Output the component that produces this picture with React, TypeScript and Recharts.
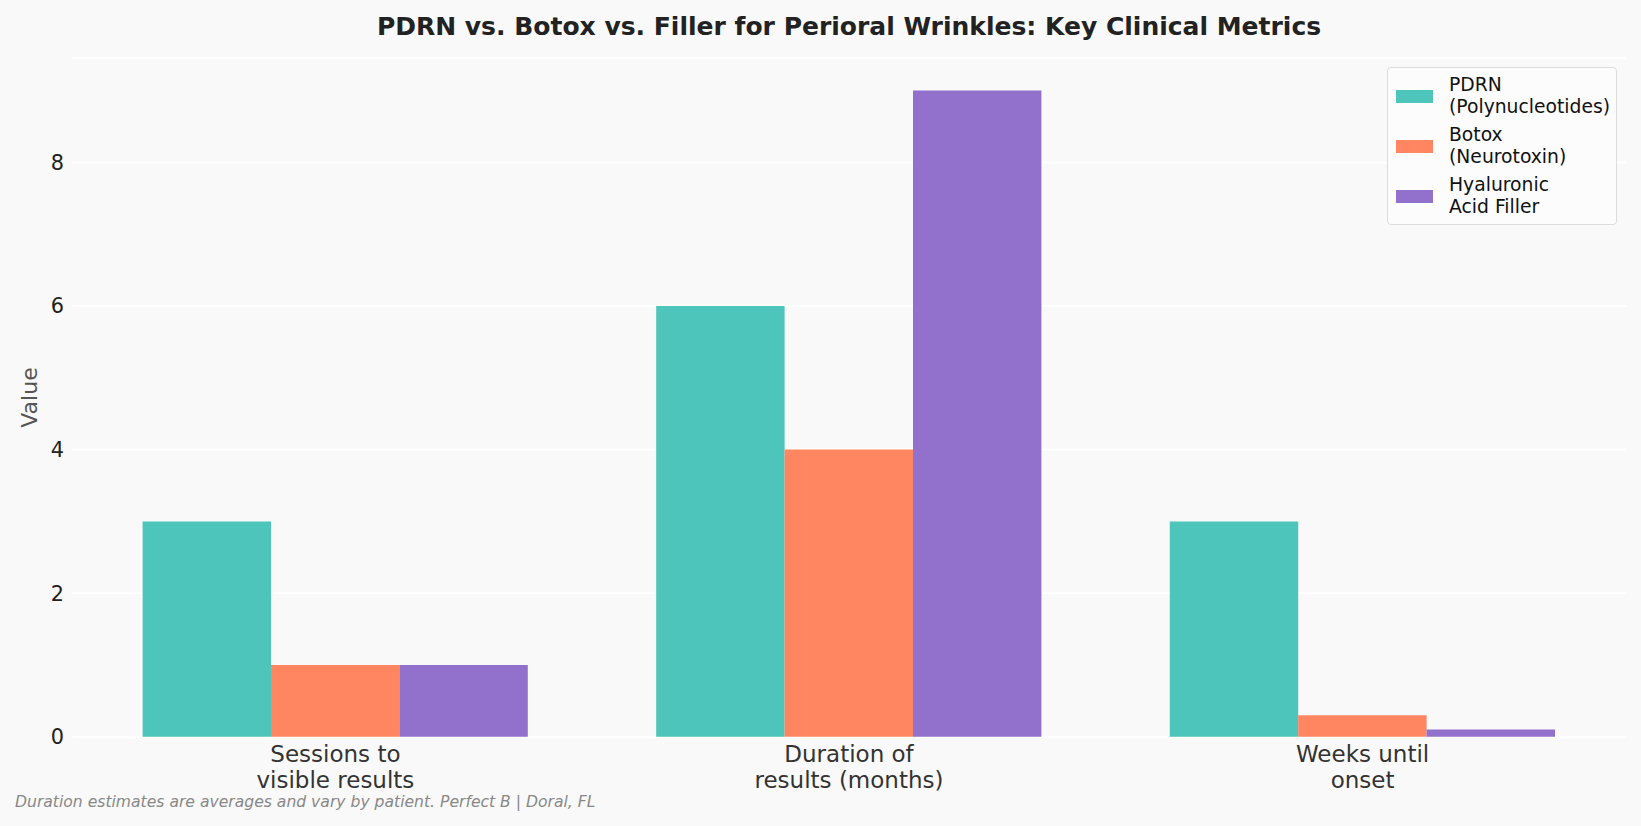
import { BarChart, Bar, XAxis, YAxis, CartesianGrid, Legend } from 'recharts';

const categories = ['Sessions to\nvisible results', 'Duration of\nresults (months)', 'Weeks until\nonset'];
const pdrnValues = [3, 6, 3];
const botoxValues = [1, 4, 0.3];
const fillerValues = [1, 9, 0.1];
const yTicks = [0, 2, 4, 6, 8];

const seriesList = [
  { key: 'pdrn', name: 'PDRN\n(Polynucleotides)', color: '#4DC5BB' },
  { key: 'botox', name: 'Botox\n(Neurotoxin)', color: '#FF8660' },
  { key: 'filler', name: 'Hyaluronic\nAcid Filler', color: '#9271CC' },
];

const data = categories.map((c, i) => ({
  category: c,
  pdrn: pdrnValues[i],
  botox: botoxValues[i],
  filler: fillerValues[i],
}));

const FONT = '"DejaVu Sans", sans-serif';

function CategoryTick(props: any) {
  const { x, y, payload } = props;
  const lines = String(payload.value).split('\n');
  return (
    <text x={x} y={y + 25} textAnchor="middle" fill="#333" fontSize={23} fontFamily={FONT}>
      {lines.map((l, i) => (
        <tspan key={i} x={x} dy={i === 0 ? 0 : 26.5}>{l}</tspan>
      ))}
    </text>
  );
}

function ValueLabel(props: any) {
  const vb = props.viewBox || { y: 0, height: 0 };
  const cy = vb.y + vb.height / 2;
  return (
    <text x={30} y={cy} transform={`rotate(-90, 30, ${cy})`} textAnchor="middle"
      dominantBaseline="central" fill="#555" fontSize={22} fontFamily={FONT}>
      Value
    </text>
  );
}

function LegendBox() {
  return (
    <div style={{
      width: 230, height: 158, boxSizing: 'border-box', border: '1.5px solid #dcdcdc',
      borderRadius: 4, background: '#fcfcfc', padding: '6px 0 0 0', fontFamily: FONT,
    }}>
      {seriesList.map((s) => (
        <div key={s.key} style={{ display: 'flex', alignItems: 'center', height: 44, marginBottom: 6 }}>
          <div style={{ width: 37, height: 13, background: s.color, marginLeft: 8, marginRight: 16 }} />
          <div style={{ fontSize: 18.75, lineHeight: '22px', color: '#111', whiteSpace: 'pre' }}>{s.name}</div>
        </div>
      ))}
    </div>
  );
}

export default function App() {
  return (
    <div style={{ position: 'absolute', left: 0, top: 0, width: 1641, height: 826, background: '#F9F9F9', fontFamily: FONT }}>
      <div style={{
        position: 'absolute', left: 0, width: 1698, top: 12, textAlign: 'center', fontWeight: 'bold',
        fontSize: 25, color: '#222', whiteSpace: 'nowrap',
      }}>
        PDRN vs. Botox vs. Filler for Perioral Wrinkles: Key Clinical Metrics
      </div>
      <BarChart
        width={1641}
        height={826}
        data={data}
        margin={{ top: 58.3, right: 15.2, left: 12.2, bottom: 0 }}
        barGap={0}
        barSize={128.4}
      >
        <CartesianGrid vertical={false} stroke="#ffffff" strokeWidth={2} />
        <XAxis
          dataKey="category"
          axisLine={false}
          tickLine={false}
          tickSize={0}
          tickMargin={0}
          interval={0}
          padding={{ left: 6.4, right: 6.4 }}
          height={89.2}
          tick={<CategoryTick />}
        />
        <YAxis
          domain={[0, 9.45]}
          ticks={yTicks}
          axisLine={false}
          tickLine={false}
          tickSize={0}
          tickMargin={8.2}
          width={60}
          tick={{ fill: '#222', fontSize: 20.8, fontFamily: FONT }}
          label={{ content: <ValueLabel /> }}
        />
        <Legend
          layout="vertical"
          align="center"
          verticalAlign="middle"
          content={<LegendBox />}
          wrapperStyle={{ position: 'absolute', left: 1387, top: 67, width: 230, height: 158 }}
        />
        {seriesList.map((s) => (
          <Bar key={s.key} dataKey={s.key} name={s.name} fill={s.color} isAnimationActive={false} />
        ))}
      </BarChart>
      <div style={{
        position: 'absolute', left: 15, top: 793, fontSize: 15.6, fontStyle: 'italic', color: '#888',
        whiteSpace: 'nowrap',
      }}>
        Duration estimates are averages and vary by patient. Perfect B | Doral, FL
      </div>
    </div>
  );
}
